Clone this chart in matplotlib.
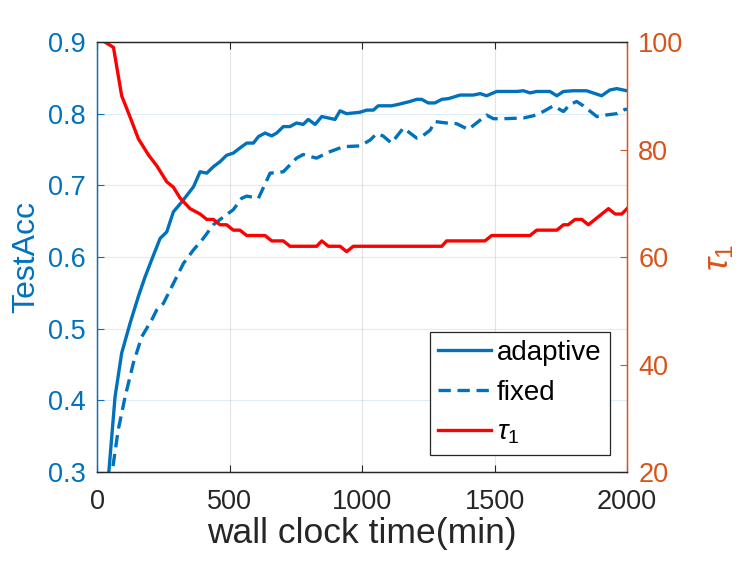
import matplotlib
matplotlib.use("Agg")
import matplotlib.pyplot as plt

plt.rcParams['font.family'] = ['Liberation Sans', 'DejaVu Sans']
plt.rcParams['mathtext.fontset'] = 'custom'
plt.rcParams['mathtext.it'] = 'Liberation Sans:italic'
plt.rcParams['mathtext.rm'] = 'Liberation Sans'

# ---- data ----
adaptive_t = [40, 68, 93, 125, 156, 181, 206, 238, 263, 288, 320, 364, 389, 414, 439, 464,
              489, 514, 546, 565, 590, 609, 634, 659, 678, 703, 728, 753, 778, 797, 823, 848,
              873, 898, 917, 942, 967, 992, 1018, 1043, 1061, 1111, 1137, 1181, 1206, 1225,
              1250, 1275, 1301, 1326, 1370, 1420, 1446, 1470, 1508, 1584, 1609, 1634, 1659,
              1709, 1735, 1760, 1797, 1847, 1872, 1904, 1935, 1961, 1986, 2000]
adaptive_acc = [0.28, 0.405, 0.466, 0.508, 0.545, 0.572, 0.596, 0.626, 0.635, 0.663, 0.677,
                0.698, 0.719, 0.717, 0.726, 0.733, 0.742, 0.745, 0.754, 0.759, 0.759, 0.768,
                0.773, 0.769, 0.773, 0.782, 0.782, 0.787, 0.785, 0.792, 0.785, 0.796, 0.794,
                0.792, 0.804, 0.800, 0.801, 0.802, 0.805, 0.805, 0.811, 0.811, 0.813, 0.817,
                0.820, 0.820, 0.815, 0.815, 0.820, 0.821, 0.826, 0.826, 0.828, 0.825, 0.831,
                0.831, 0.832, 0.829, 0.831, 0.831, 0.825, 0.831, 0.832, 0.832, 0.829, 0.825,
                0.833, 0.835, 0.833, 0.832]

fixed_t = [50, 80, 106, 137, 169, 206, 225, 250, 288, 326, 364, 401, 439, 477, 514, 546, 565,
           609, 653, 703, 753, 778, 828, 879, 930, 992, 1030, 1055, 1079, 1111, 1156, 1206,
           1225, 1257, 1275, 1319, 1357, 1401, 1470, 1496, 1533, 1609, 1646, 1684, 1722, 1760,
           1785, 1810, 1835, 1886, 1917, 1961, 1992, 2000]
fixed_acc = [0.282, 0.359, 0.405, 0.452, 0.489, 0.512, 0.526, 0.535, 0.563, 0.591, 0.610,
             0.626, 0.645, 0.656, 0.666, 0.682, 0.685, 0.682, 0.717, 0.719, 0.738, 0.743,
             0.738, 0.747, 0.754, 0.755, 0.763, 0.772, 0.769, 0.759, 0.780, 0.766, 0.768,
             0.777, 0.789, 0.787, 0.786, 0.778, 0.798, 0.793, 0.793, 0.794, 0.797, 0.803,
             0.811, 0.803, 0.813, 0.817, 0.811, 0.796, 0.798, 0.800, 0.806, 0.806]

tau_t = [30, 62, 93, 125, 156, 194, 225, 263, 288, 313, 351, 389, 414, 439, 464, 489, 514,
         539, 565, 634, 659, 703, 728, 829, 848, 873, 917, 942, 967, 1301, 1319, 1464, 1489,
         1634, 1659, 1735, 1760, 1778, 1804, 1829, 1854, 1930, 1955, 1980, 2000]
tau_val = [100, 99, 90, 86, 82, 79, 77, 74, 73, 71, 69, 68, 67, 67, 66, 66, 65, 65, 64, 64,
           63, 63, 62, 62, 63, 62, 62, 61, 62, 62, 63, 63, 64, 64, 65, 65, 66, 66, 67, 67, 66,
           69, 68, 68, 69]

x_ticks = [0, 500, 1000, 1500, 2000]
acc_ticks = [0.3, 0.4, 0.5, 0.6, 0.7, 0.8, 0.9]
tau_ticks = [20, 40, 60, 80, 100]

# ---- style ----
BLUE = '#0072BD'
ORANGE = '#D95319'
RED = '#FF0000'
DARK = '#262626'
TICK_FS = 19.5
LABEL_FS = 23

fig = plt.figure(figsize=(7.47, 5.61), dpi=100)
ax1 = fig.add_axes([0.1299, 0.1586, 0.7095, 0.7665])
ax2 = ax1.twinx()

l1, = ax1.plot(adaptive_t, adaptive_acc, color=BLUE, lw=2.4, label='adaptive')
l2, = ax1.plot(fixed_t, fixed_acc, color=BLUE, lw=2.4, ls=(0, (3.7, 2.0)), label='fixed')
l3, = ax2.plot(tau_t, tau_val, color=RED, lw=2.4, label=r'$\tau_1$')

ax1.set_xlim(0, 2000)
ax1.set_ylim(0.3, 0.9)
ax2.set_ylim(20, 100)
ax1.set_xticks(x_ticks)
ax1.set_yticks(acc_ticks)
ax1.set_yticklabels([f'{v:.1f}' for v in acc_ticks])
ax2.set_yticks(tau_ticks)

# grid
ax1.xaxis.grid(True, color=DARK, alpha=0.12, lw=0.8)
ax1.yaxis.grid(True, color=BLUE, alpha=0.12, lw=0.8)
ax1.set_axisbelow(True)

# spines
for a in (ax1, ax2):
    a.spines['top'].set_color(DARK)
    a.spines['bottom'].set_color(DARK)
    a.spines['left'].set_color(BLUE)
    a.spines['right'].set_color(ORANGE)
    for s in a.spines.values():
        s.set_linewidth(0.9)

ax1.tick_params(axis='x', direction='in', length=5, width=0.8, colors=DARK,
                labelsize=TICK_FS, top=True, pad=12, labelcolor=DARK)
ax1.tick_params(axis='y', direction='in', length=5, width=0.8, colors=BLUE,
                labelsize=TICK_FS, pad=8)
ax2.tick_params(axis='y', direction='in', length=5, width=0.8, colors=ORANGE,
                labelsize=TICK_FS, pad=8)

ax1.set_xlabel('wall clock time(min)', fontsize=LABEL_FS + 2.5, color=DARK, labelpad=2)
ax1.set_ylabel('TestAcc', fontsize=LABEL_FS, color=BLUE, labelpad=5)
ax2.set_ylabel(r'$\tau_1$', fontsize=LABEL_FS + 2, color=ORANGE, labelpad=14)

leg = ax2.legend(handles=[l1, l2, l3], loc='lower right',
                 bbox_to_anchor=(0.967, 0.04), fontsize=20,
                 handlelength=1.9, handletextpad=0.2, labelspacing=0.5,
                 borderpad=0.3, borderaxespad=0.0, fancybox=False, framealpha=1)
leg.get_frame().set_edgecolor(DARK)
leg.get_frame().set_linewidth(0.9)

fig.savefig('out.png', dpi=100)
